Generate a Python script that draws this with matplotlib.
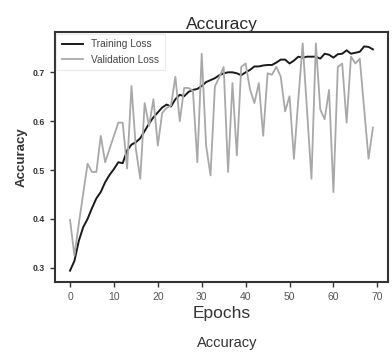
import matplotlib
matplotlib.use("Agg")
import matplotlib.pyplot as plt

plt.rcParams['font.family'] = ['Liberation Sans', 'DejaVu Sans']

# per-epoch values
epochs = list(range(70))
train_acc = [0.294, 0.314, 0.355, 0.383, 0.400, 0.422, 0.442, 0.455, 0.475, 0.490,
             0.502, 0.516, 0.514, 0.540, 0.552, 0.557, 0.565, 0.580, 0.595, 0.608,
             0.618, 0.628, 0.634, 0.630, 0.645, 0.654, 0.651, 0.660, 0.664, 0.666,
             0.672, 0.680, 0.684, 0.688, 0.694, 0.698, 0.700, 0.700, 0.698, 0.694,
             0.700, 0.705, 0.712, 0.712, 0.714, 0.715, 0.715, 0.720, 0.726, 0.726,
             0.718, 0.724, 0.732, 0.730, 0.732, 0.732, 0.732, 0.728, 0.738, 0.736,
             0.730, 0.737, 0.738, 0.745, 0.738, 0.740, 0.742, 0.753, 0.752, 0.747]
val_acc = [0.398, 0.325, 0.390, 0.452, 0.513, 0.496, 0.496, 0.570, 0.516, 0.543,
           0.570, 0.597, 0.597, 0.503, 0.672, 0.543, 0.482, 0.637, 0.590, 0.645,
           0.550, 0.617, 0.627, 0.632, 0.691, 0.600, 0.668, 0.668, 0.662, 0.516,
           0.738, 0.550, 0.489, 0.671, 0.690, 0.711, 0.496, 0.678, 0.530, 0.711,
           0.718, 0.665, 0.637, 0.678, 0.570, 0.698, 0.695, 0.711, 0.691, 0.620,
           0.651, 0.523, 0.645, 0.759, 0.620, 0.482, 0.759, 0.624, 0.604, 0.664,
           0.455, 0.711, 0.718, 0.597, 0.732, 0.718, 0.728, 0.625, 0.523, 0.587]
yticks = [0.3, 0.4, 0.5, 0.6, 0.7]

fig = plt.figure(figsize=(3.92, 3.53), dpi=100)
ax = fig.add_axes([0.140, 0.201, 0.850, 0.708])

ax.plot(epochs, train_acc, color='#1a1a1a', lw=1.4, label='Training Loss')
ax.plot(epochs, val_acc, color='#a8a8a8', lw=1.3, label='Validation Loss')

ax.set_title('Accuracy', fontsize=12.5, color='#2a2a2a', pad=2)
ax.set_xlabel('Epochs', fontsize=12.5, color='#333333', labelpad=3)
ax.set_ylabel('Accuracy', fontsize=9.5, fontweight='bold', color='#333333', labelpad=4)

ax.set_yticks(yticks)
ax.set_yticklabels([f'{v:.1f}' for v in yticks], fontsize=6.3, fontweight='bold', color='#333333')
ax.tick_params(axis='x', labelsize=7.5, labelcolor='#555555', length=3.5, width=1, color='#333333')
ax.tick_params(axis='y', length=3.5, width=1, color='#333333')
for s in ax.spines.values():
    s.set_linewidth(1.5)
    s.set_color('#333333')

leg = ax.legend(loc='upper left', fontsize=7.3, borderaxespad=0.15, handlelength=2.1,
                labelspacing=0.55, borderpad=0.55, frameon=True, fancybox=False,
                edgecolor='#e6e6e6')
leg.get_frame().set_linewidth(0.8)
for t in leg.get_texts():
    t.set_color('#444444')

fig.text(0.579, 0.028, 'Accuracy', ha='center', va='center', fontsize=10.5, color='#333333')

fig.savefig('out.png', dpi=100)
